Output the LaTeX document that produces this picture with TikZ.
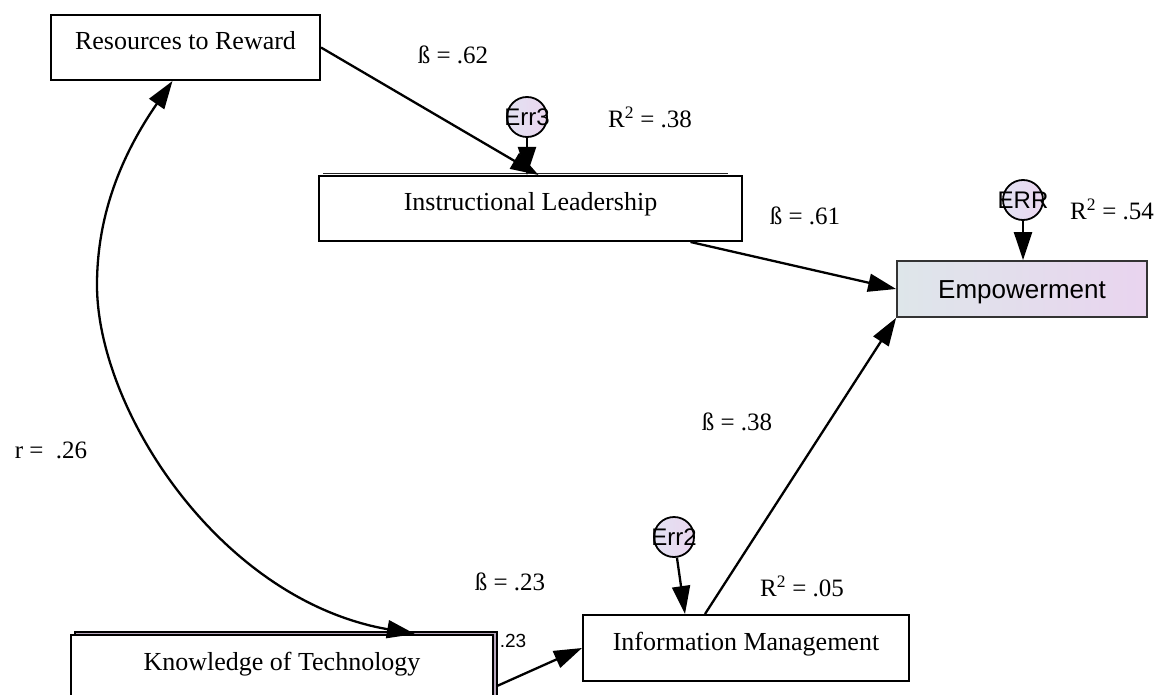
\documentclass[tikz,border=0pt]{standalone}
\usepackage{fontspec}
\setmainfont{Liberation Serif}
\newfontfamily\arialfont{Liberation Sans}
\usetikzlibrary{arrows.meta}
\definecolor{empleft}{HTML}{DEE6EA}
\definecolor{empright}{HTML}{E9D4EF}
\definecolor{errleft}{HTML}{E2E2F2}
\definecolor{errright}{HTML}{EBD6EF}
\definecolor{backbox}{HTML}{B9A8BE}
\begin{document}
\begin{tikzpicture}[x=1pt,y=-1pt,
  varbox/.style={draw=black, line width=2pt, fill=white, inner sep=0pt,
    font=\fontsize{26}{30}\selectfont, text height=18pt, text depth=13pt},
  errc/.style={circle, draw=black, line width=1.8pt, minimum size=40pt, inner sep=0pt,
    left color=errleft, right color=errright,
    label={[font=\arialfont\fontsize{24}{26}\selectfont, inner sep=0pt]center:#1}},
  conn/.style={line width=2.3pt, -{Triangle[length=28pt,width=18pt]}},
  coef/.style={font=\fontsize{25}{28}\selectfont, inner sep=0pt}]

\useasboundingbox (0,0) rectangle (1158,695);
\clip (0,0) rectangle (1158,695);
\fill[white] (0,0) rectangle (1158,695);

% observed variables
\node[varbox, minimum width=269pt, minimum height=65pt] (res) at (185.5,47.5) {Resources to Reward};
\draw[line width=1.2pt, black!85] (323,173.5) -- (728,173.5);
\node[varbox, minimum width=423pt, minimum height=65pt] (inst) at (530.5,208.5) {Instructional Leadership};
\node[varbox, minimum width=326pt, minimum height=66pt] (info) at (746,648) {Information Management};
\node[draw=black, line width=1.4pt, fill=backbox, minimum width=422pt, minimum height=66pt] (knowback) at (286,665) {};
\node[varbox, minimum width=422pt, minimum height=66pt] (know) at (282,668) {Knowledge of Technology};
\node[draw=black!80, line width=1.8pt, left color=empleft, right color=empright,
  minimum width=250pt, minimum height=56pt, inner sep=0pt,
  font=\arialfont\fontsize{26}{30}\selectfont, text height=19pt, text depth=1pt] (emp) at (1022,289) {Empowerment};

% error terms
\node[errc=Err3] (e3) at (527,117) {};
\node[errc=ERR] (err) at (1023,200) {};
\node[errc=Err2] (e2) at (674,537) {};

% paths
\draw[conn] (res.east) -- ([xshift=8pt]inst.north);
\draw[conn] (e3) -- (e3 |- inst.north);
\draw[conn] ([xshift=160pt]inst.south) -- (emp.west);
\draw[conn] (err) -- (err |- emp.north);
\draw[conn] ([xshift=-41pt]info.north) -- (emp.south west);
\draw[conn] (e2) -- ([xshift=-61pt]info.north);
\draw[conn] ([xshift=3pt,yshift=-18pt]know.east) -- (info.west);

% correlation
\draw[line width=2.3pt, {Triangle[length=28pt,width=18pt]}-{Triangle[length=28pt,width=18pt]}]
  ([xshift=-13pt]res.south) .. controls (125,150) and (97,210) .. (97,285)
  .. controls (97,410) and (220,600) .. ([xshift=133pt]know.north);

% coefficients
\node[coef] (b62) at (453,55) {ß = .62};
\node[coef] (r38) at (650,117) {R\textsuperscript{2} = .38};
\node[coef] (b61) at (805,216) {ß = .61};
\node[coef] (r54) at (1112,209) {R\textsuperscript{2} = .54};
\node[coef] (r26) at (51,450) {r = \ .26};
\node[coef] (b38) at (737,422) {ß = .38};
\node[coef] (r05) at (802,586) {R\textsuperscript{2} = .05};
\node[coef] (b23) at (510,582) {ß = .23};
\node[font=\arialfont\fontsize{19}{22}\selectfont, inner sep=0pt] (k23) at (513,641) {.23};
\end{tikzpicture}
\end{document}
